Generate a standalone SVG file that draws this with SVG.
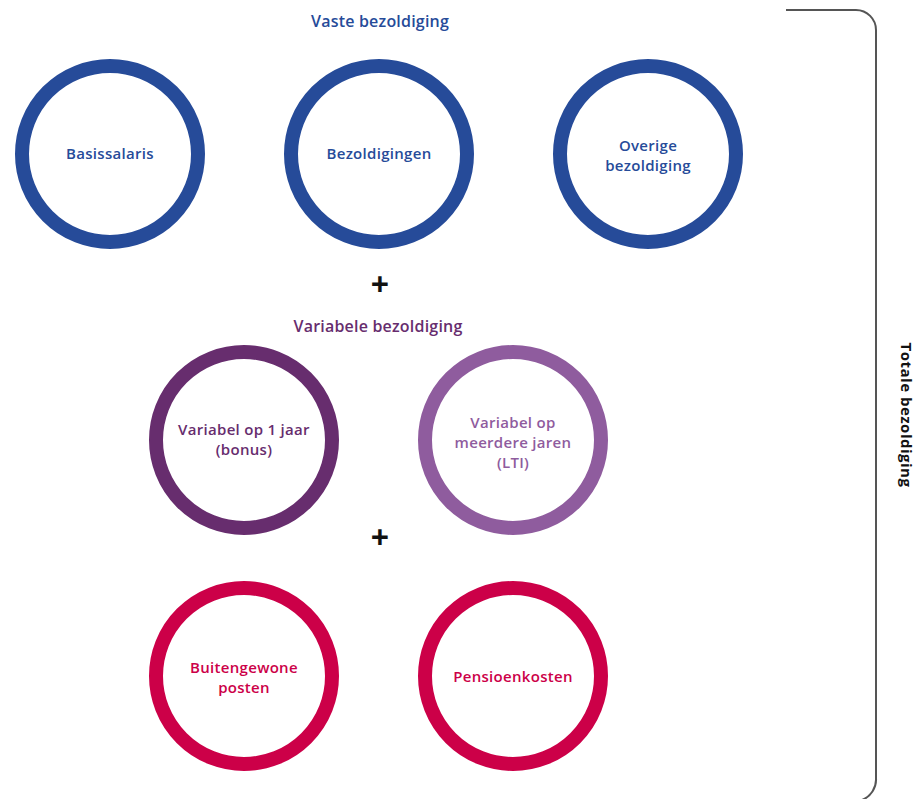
<svg xmlns="http://www.w3.org/2000/svg" width="917" height="799" viewBox="0 0 917 799">
<style>
.ring{fill:none;stroke-width:14}
.lbl{font-family:"Open Sans","Noto Sans",sans-serif;font-weight:600;font-size:15px;letter-spacing:0.3px;text-anchor:middle}
.hdr{font-size:16px;letter-spacing:0.2px}
.blue{stroke:#264b99}.tblue{fill:#264b99}
.dpur{stroke:#672d6e}.tdpur{fill:#672d6e}
.lpur{stroke:#8f5c9e}.tlpur{fill:#8f5c9e}
.red{stroke:#cc0048}.tred{fill:#cc0048}
.plus{font-family:"Open Sans","Noto Sans",sans-serif;font-weight:700;font-size:32px;text-anchor:middle;fill:#111}
</style>
<rect width="917" height="799" fill="#fff"/>
<g id="headers">
<text class="lbl hdr tblue" x="380" y="27">Vaste bezoldiging</text>
<text class="lbl hdr tdpur" x="378" y="332">Variabele bezoldiging</text>
</g>
<g id="connectors">
<path d="M786,10 H856 A20,20 0 0 1 876,30 V778 A22,22 0 0 1 862,800" fill="none" stroke="#555" stroke-width="2"/>
<text class="plus" x="380" y="296">+</text>
<text class="plus" x="380" y="549">+</text>
</g>
<g id="totaal">
<text transform="translate(901,415) rotate(90)" font-family="'Open Sans','Noto Sans',sans-serif" font-weight="700" font-size="15" letter-spacing="0.5" text-anchor="middle" fill="#111">Totale bezoldiging</text>
</g>
<g id="basissalaris">
<circle class="ring blue" cx="110" cy="154" r="88"/>
<text class="lbl tblue" x="110" y="159">Basissalaris</text>
</g>
<g id="bezoldigingen">
<circle class="ring blue" cx="379" cy="154" r="88"/>
<text class="lbl tblue" x="379" y="159">Bezoldigingen</text>
</g>
<g id="overige">
<circle class="ring blue" cx="648" cy="154" r="88"/>
<text class="lbl tblue" x="648" y="151">Overige</text>
<text class="lbl tblue" x="648" y="171">bezoldiging</text>
</g>
<g id="variabel1">
<circle class="ring dpur" cx="244" cy="440" r="88"/>
<text class="lbl tdpur" x="244" y="435">Variabel op 1 jaar</text>
<text class="lbl tdpur" x="244" y="455">(bonus)</text>
</g>
<g id="variabelLTI">
<circle class="ring lpur" cx="513" cy="440" r="88"/>
<text class="lbl tlpur" x="513" y="428">Variabel op</text>
<text class="lbl tlpur" x="513" y="448">meerdere jaren</text>
<text class="lbl tlpur" x="513" y="468">(LTI)</text>
</g>
<g id="buitengewone">
<circle class="ring red" cx="244" cy="676" r="88"/>
<text class="lbl tred" x="244" y="673">Buitengewone</text>
<text class="lbl tred" x="244" y="693">posten</text>
</g>
<g id="pensioen">
<circle class="ring red" cx="513" cy="676" r="88"/>
<text class="lbl tred" x="513" y="682">Pensioenkosten</text>
</g>
</svg>
